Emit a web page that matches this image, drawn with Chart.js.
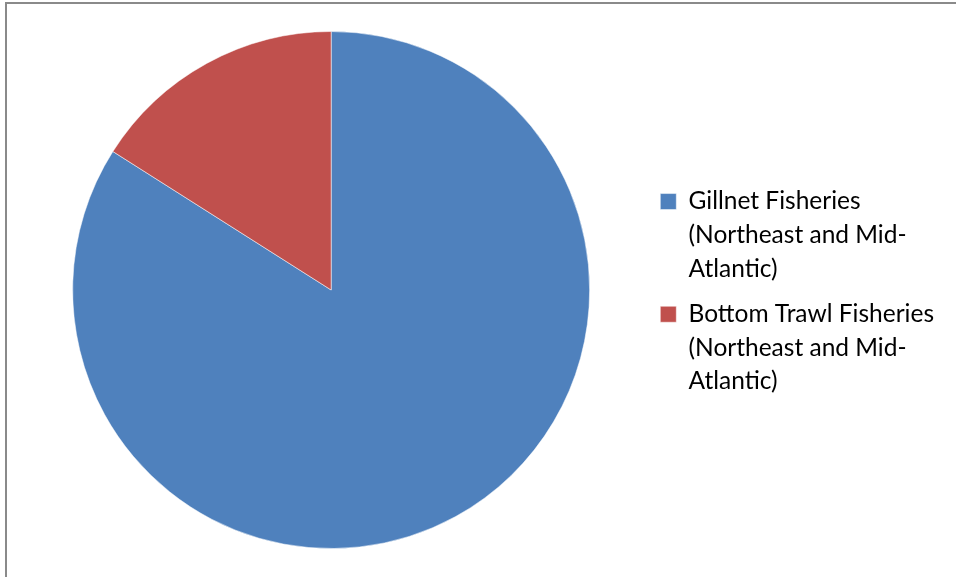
<!DOCTYPE html>
<html lang="en">
<head>
  <meta charset="UTF-8">
  <title>Fisheries share</title>
  <script src="https://cdn.jsdelivr.net/npm/chart.js"></script>
  <style>
    html, body { margin: 0; padding: 0; background: #fff; }
    .frame { position: absolute; left: 5px; top: 2px; width: 951px; height: 575px;
             border-left: 2px solid #8a8a8a; border-top: 2px solid #8a8a8a; }
    .chart-container { position: absolute; left: 0; top: 0; width: 956px; height: 577px; }
  </style>
</head>
<body>
  <div class="frame"></div>
  <div class="chart-container"><canvas id="pieChart"></canvas></div>

  <script>
    const categories = [
      ['Gillnet Fisheries', '(Northeast and Mid-', 'Atlantic)'],
      ['Bottom Trawl Fisheries', '(Northeast and Mid-', 'Atlantic)']
    ];
    const shares = [84, 16];
    const colors = ['#4F81BD', '#C0504D'];

    new Chart(document.getElementById('pieChart'), {
      type: 'pie',
      data: {
        labels: categories,
        datasets: [{
          data: shares,
          backgroundColor: colors,
          borderColor: 'rgba(255,255,255,0.5)',
          borderWidth: 1
        }]
      },
      options: {
        responsive: true,
        maintainAspectRatio: false,
        animation: false,
        layout: { padding: { top: 31, bottom: 28, left: 14, right: 12 } },
        plugins: {
          legend: {
            position: 'right',
            // empty title row only nudges the items down a bit
            title: { display: true, text: ' ', font: { size: 12, lineHeight: 1 }, padding: 0 },
            labels: {
              color: '#000',
              font: { family: 'Lato', size: 24.5, lineHeight: 1.37 },
              boxWidth: 16,
              boxHeight: 16,
              padding: 12
            }
          },
          tooltip: { enabled: false }
        }
      }
    });
  </script>
</body>
</html>
